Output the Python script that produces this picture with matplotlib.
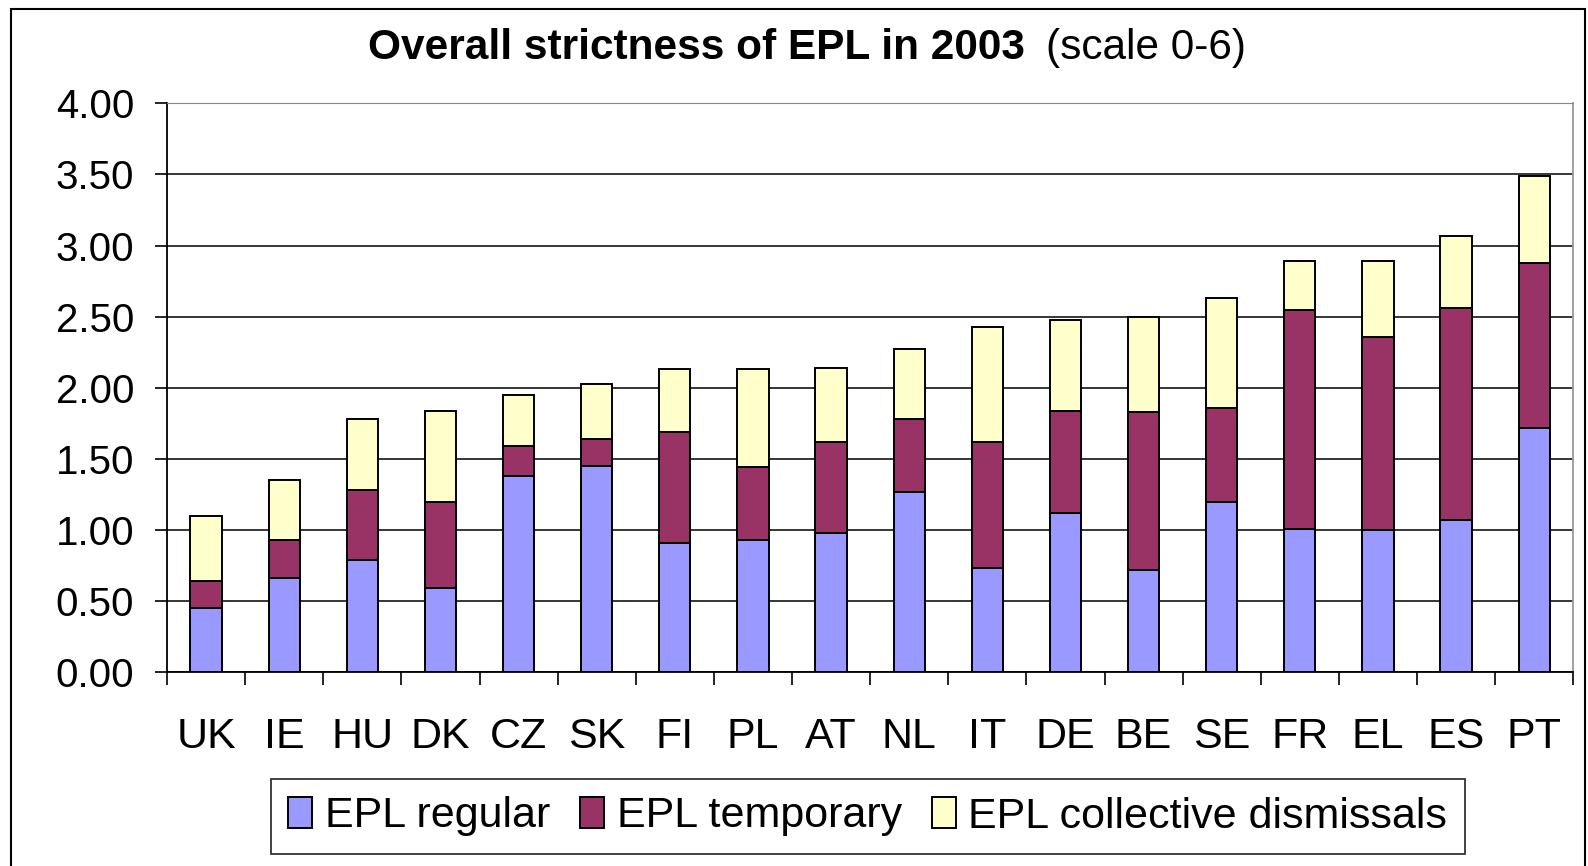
import matplotlib.pyplot as plt
import numpy as np
from matplotlib.patches import Rectangle

plt.rcParams["font.family"] = ["Liberation Sans", "DejaVu Sans"]

countries = ["UK", "IE", "HU", "DK", "CZ", "SK", "FI", "PL", "AT",
             "NL", "IT", "DE", "BE", "SE", "FR", "EL", "ES", "PT"]
epl_regular = [0.45, 0.66, 0.79, 0.59, 1.38, 1.45, 0.91, 0.93, 0.98,
               1.27, 0.73, 1.12, 0.72, 1.20, 1.01, 1.00, 1.07, 1.72]
epl_temporary = [0.19, 0.27, 0.49, 0.61, 0.21, 0.19, 0.78, 0.51, 0.64,
                 0.51, 0.89, 0.72, 1.11, 0.66, 1.54, 1.36, 1.49, 1.16]
epl_collective = [0.46, 0.42, 0.50, 0.64, 0.36, 0.39, 0.44, 0.69, 0.52,
                  0.49, 0.81, 0.64, 0.67, 0.77, 0.34, 0.53, 0.51, 0.61]
series_names = ["EPL regular", "EPL temporary", "EPL collective dismissals"]
yticks = [0.0, 0.5, 1.0, 1.5, 2.0, 2.5, 3.0, 3.5, 4.0]

colors = ["#9999FF", "#993366", "#FFFFCC"]

W, H = 1588, 866
fig = plt.figure(figsize=(W / 100, H / 100), dpi=100)
ax = fig.add_axes([167 / W, 1 - 672.3 / H, (1573.3 - 167) / W, (672.3 - 103.3) / H])

x = np.arange(len(countries))
width = 0.40
bottom = np.zeros(len(countries))
for vals, name, col in zip([epl_regular, epl_temporary, epl_collective], series_names, colors):
    ax.bar(x, vals, width, bottom=bottom, color=col, edgecolor="black",
           linewidth=1.4, label=name, zorder=3)
    bottom = bottom + np.array(vals)

ax.set_xlim(-0.5, len(countries) - 0.5)
ax.set_ylim(0, 4.0)
ax.set_yticks(yticks)
ax.set_yticklabels([f"{v:.2f}" for v in yticks])
# category boundaries get the tick marks, centres get the labels
ax.set_xticks(np.arange(len(countries) + 1) - 0.5)
ax.set_xticklabels([])
ax.set_xticks(x, minor=True)
ax.set_xticklabels(countries, minor=True)

ax.tick_params(axis="y", direction="out", length=8.5, width=1.2, labelsize=29, pad=15)
ax.tick_params(axis="x", which="major", direction="out", length=9, width=1.2)
ax.tick_params(axis="x", which="minor", length=0, labelsize=31, pad=32)

ax.grid(axis="y", color="black", linewidth=1.1, zorder=0)
ax.set_axisbelow(True)
gl = ax.yaxis.get_gridlines()
gl[-1].set_color("#888888")

for side in ["left", "bottom"]:
    ax.spines[side].set_color("black")
    ax.spines[side].set_linewidth(1.3)
ax.spines["top"].set_color("#888888")
ax.spines["right"].set_color("#999999")
ax.spines["right"].set_linewidth(1.3)

fig.text(367.6 / W, 1 - 59 / H, "Overall strictness of EPL in 2003",
         fontsize=30.5, fontweight="bold", ha="left", va="baseline")
fig.text(1046 / W, 1 - 59 / H, "(scale 0-6)",
         fontsize=30.5, ha="left", va="baseline")

leg = fig.legend(loc="center", bbox_to_anchor=(867.7 / W, 1 - 816.5 / H),
                 ncol=3, fontsize=31, frameon=True, fancybox=False,
                 handlelength=0.55, handleheight=0.7, handletextpad=0.3,
                 columnspacing=0.7, borderpad=0.4, borderaxespad=0)
leg.get_frame().set_edgecolor("black")
leg.get_frame().set_linewidth(1.3)

fig.add_artist(Rectangle((11 / W, -0.1), (1585 - 11) / W, 1.1 - 9.3 / H,
                         transform=fig.transFigure, fill=False,
                         edgecolor="black", linewidth=1.5))

fig.savefig("out.png", dpi=100)
